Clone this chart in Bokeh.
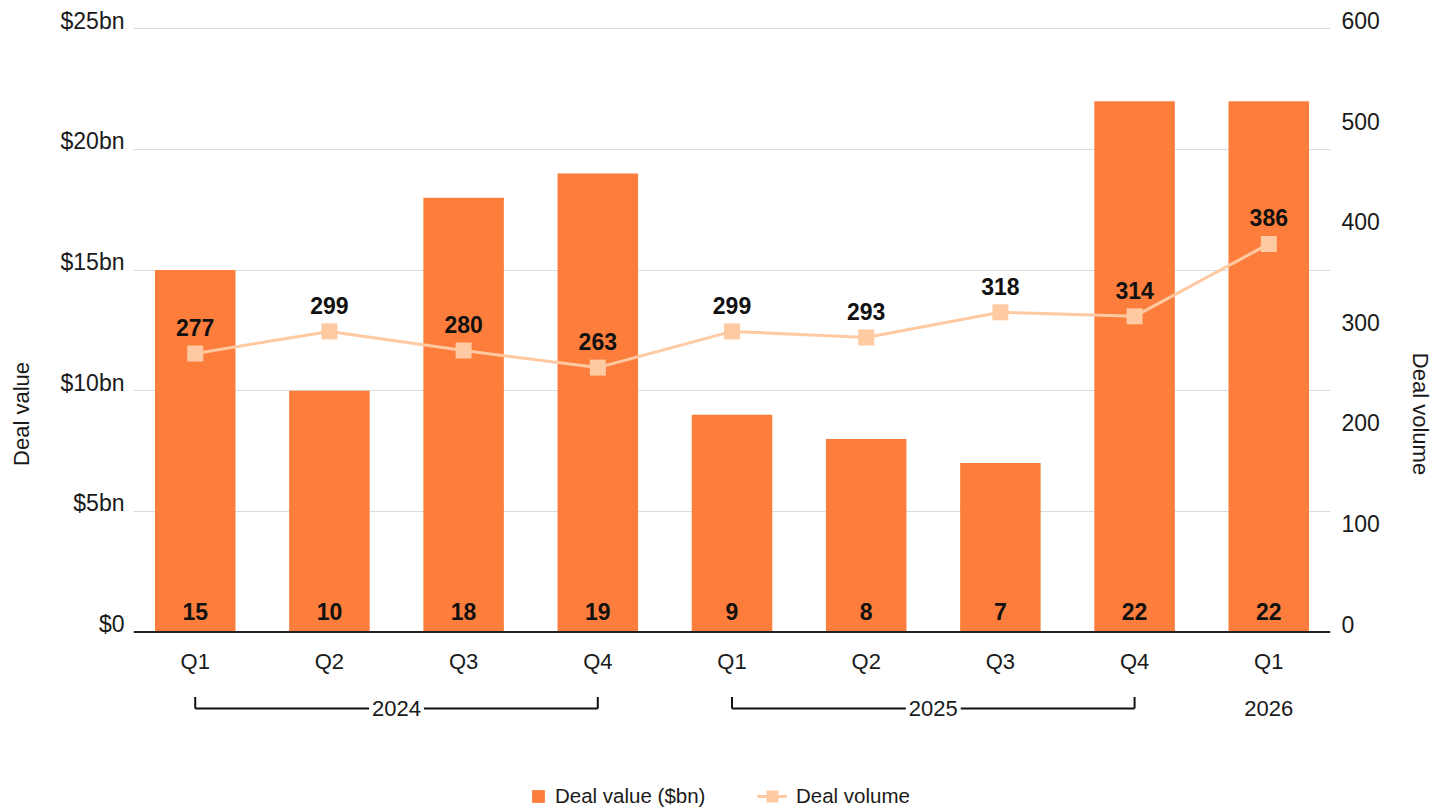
import math
from bokeh.plotting import figure
from bokeh.models import (Range1d, LinearAxis, FixedTicker, Span, Grid,
                          Legend, LegendItem, ColumnDataSource)
from bokeh.core.properties import value
from bokeh.embed import file_html
from bokeh.resources import INLINE

# ---------------- data ----------------
quarters = ["Q1", "Q2", "Q3", "Q4", "Q1", "Q2", "Q3", "Q4", "Q1"]
years = ["2024", "2024", "2024", "2024", "2025", "2025", "2025", "2025", "2026"]
deal_value = [15, 10, 18, 19, 9, 8, 7, 22, 22]          # $bn
deal_volume = [277, 299, 280, 263, 299, 293, 318, 314, 386]
value_ticks = [0, 5, 10, 15, 20, 25]
value_tick_labels = ["$0", "$5bn", "$10bn", "$15bn", "$20bn", "$25bn"]
volume_ticks = [0, 100, 200, 300, 400, 500, 600]

# ---------------- styling / layout ----------------
FONT = "Liberation Sans"
ORANGE = "#FD7E3C"
PEACH = "#FFC9A2"
TXT = "#1a1a1a"
GRID = "#d9dce1"

W, H = 1440, 809
LEFT, RIGHT, TOP, BOTTOM = 133, 110, 18, 0
TOP_GRID_PX = 28.3                   # canvas y of the top ($25bn / 600) gridline
ZERO_PX = 631.5                      # canvas y of the zero line
VMAX = 25.0
PPU = (ZERO_PX - TOP_GRID_PX) / VMAX  # pixels per $bn
y_start = -(H - BOTTOM - ZERO_PX) / PPU
y_end = VMAX + (TOP_GRID_PX - TOP) / PPU
vol_scale = 600 / VMAX
LABEL_LIFT = 8 / PPU                 # tick labels sit just above their gridline

n = len(quarters)
xpos = [i + 0.5 for i in range(n)]   # category slot centres
INSET = 0.04

p = figure(width=W, height=H, output_backend="svg", toolbar_location=None,
           x_range=Range1d(INSET, n - INSET),
           y_range=Range1d(y_start, y_end),
           x_axis_location=None, y_axis_location=None,
           min_border_left=LEFT, min_border_right=RIGHT,
           min_border_top=TOP, min_border_bottom=BOTTOM)
p.extra_y_ranges = {
    "vol": Range1d(y_start * vol_scale, y_end * vol_scale),
    "val_lbl": Range1d(y_start - LABEL_LIFT, y_end - LABEL_LIFT),
    "vol_lbl": Range1d((y_start - LABEL_LIFT) * vol_scale, (y_end - LABEL_LIFT) * vol_scale),
}
p.outline_line_color = None
p.background_fill_color = "white"
p.border_fill_color = "white"

src = ColumnDataSource(dict(
    x=xpos, q=quarters, val=deal_value, vol=deal_volume,
    val_lbl=[str(v) for v in deal_value], vol_lbl=[str(v) for v in deal_volume],
    zero=[0] * n,
))

# grid
for g in list(p.grid):
    g.visible = False
p.add_layout(Grid(dimension=1, ticker=FixedTicker(ticks=value_ticks),
                  grid_line_color=GRID, grid_line_width=1))

# axes
ya = LinearAxis(y_range_name="val_lbl", ticker=FixedTicker(ticks=value_ticks),
                axis_label="Deal value")
ya.major_label_overrides = {t: l for t, l in zip(value_ticks, value_tick_labels)}
p.add_layout(ya, "left")

ra = LinearAxis(y_range_name="vol_lbl", ticker=FixedTicker(ticks=volume_ticks),
                axis_label="Deal volume")
p.add_layout(ra, "right")
if "axis_label_orientation" in ra.properties():
    ra.axis_label_orientation = "vertical"

for ax, st, lst in [(ya, 9, 24), (ra, 11, 25)]:
    ax.axis_line_color = None
    ax.major_tick_line_color = None
    ax.minor_tick_line_color = None
    ax.major_tick_in = 0
    ax.major_tick_out = 0
    ax.major_label_standoff = st
    ax.axis_label_standoff = lst
    ax.major_label_text_font = FONT
    ax.major_label_text_font_size = "23px"
    ax.major_label_text_color = TXT
    ax.axis_label_text_font = FONT
    ax.axis_label_text_font_size = "22px"
    ax.axis_label_text_font_style = "normal"
    ax.axis_label_text_color = TXT

# bars
bars = p.vbar(x="x", top="val", bottom=0, width=0.6, source=src,
              fill_color=ORANGE, line_color=None)

# zero line
p.add_layout(Span(location=0, dimension="width", line_color="#222222", line_width=2))

# line + markers
ln = p.line(x="x", y="vol", source=src, y_range_name="vol",
            line_color=PEACH, line_width=3)
mk = p.scatter(x="x", y="vol", source=src, y_range_name="vol", marker="square",
               size=16, fill_color=PEACH, line_color=None)

# value labels
p.text(x="x", y="zero", text="val_lbl", source=src, y_offset=-21,
       text_font=value(FONT), text_font_style="bold", text_font_size="23px",
       text_color="#111111", text_align="center", text_baseline="middle")
p.text(x="x", y="vol", text="vol_lbl", source=src, y_range_name="vol", y_offset=-26,
       text_font=value(FONT), text_font_style="bold", text_font_size="23px",
       text_color="#111111", text_align="center", text_baseline="middle")

# quarter labels
p.text(x="x", y="zero", text="q", source=src, y_offset=29,
       text_font=value(FONT), text_font_size="22px",
       text_color=TXT, text_align="center", text_baseline="middle")

# year brackets
y_h = -(708 - ZERO_PX) / PPU
y_t = -(696.5 - ZERO_PX) / PPU
uniq_years = []
for y in years:
    if y not in uniq_years:
        uniq_years.append(y)
bx0, bx1, by0, by1 = [], [], [], []
yl_x, yl_y, yl_t = [], [], []
for y in uniq_years:
    idx = [i for i, yy in enumerate(years) if yy == y]
    a, b = xpos[idx[0]], xpos[idx[-1]]
    if len(idx) > 1:
        bx0 += [a, a, b]; bx1 += [b, a, b]
        by0 += [y_h, y_t, y_t]; by1 += [y_h, y_h, y_h]
    yl_x.append((a + b) / 2)
    yl_y.append(y_h)
    yl_t.append(y)

p.segment(x0=bx0, y0=by0, x1=bx1, y1=by1,
          line_color="#111111", line_width=2)
p.text(x=yl_x, y=yl_y, text=yl_t,
       text_font=value(FONT), text_font_size="22px", text_color=TXT,
       text_align="center", text_baseline="middle",
       background_fill_color="white", padding=3)

# legends
common = dict(orientation="horizontal", padding=0, margin=0, spacing=0,
              border_line_color=None, background_fill_color=None,
              label_standoff=9,
              label_text_font=FONT, label_text_font_size="20.5px",
              label_text_color=TXT)
lg1 = Legend(items=[LegendItem(label="Deal value ($bn)", renderers=[bars])],
             location=(530 - LEFT, 1), glyph_width=16, glyph_height=16, **common)
lg2 = Legend(items=[LegendItem(label="Deal volume", renderers=[ln, mk])],
             location=(757 - LEFT, -2), glyph_width=30, glyph_height=30, **common)
p.add_layout(lg1)
p.add_layout(lg2)

open("out.html", "w").write(file_html(p, INLINE))
